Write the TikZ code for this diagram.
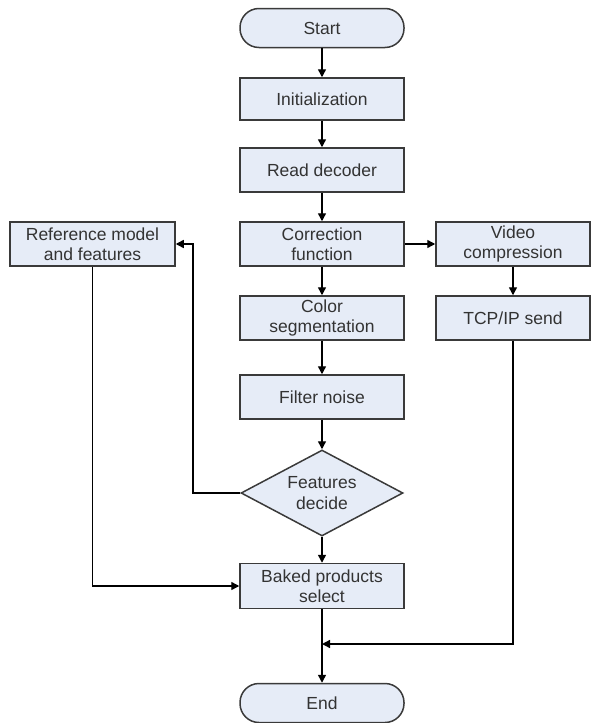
\documentclass[tikz,border=0pt]{standalone}
\usepackage{fontspec}
\setmainfont{Liberation Sans}
\usepackage{tikz}
\usetikzlibrary{arrows.meta,shapes.geometric,calc}
\definecolor{boxfill}{HTML}{E6ECF7}
\definecolor{boxline}{HTML}{3A3A3A}
\definecolor{boxtext}{HTML}{333333}

\begin{document}
\begin{tikzpicture}[
  x=1pt, y=-1pt,
  proc/.style={draw=boxline, fill=boxfill, line width=1.5pt, minimum width=164pt, minimum height=44pt,
    align=center, text=boxtext, inner sep=1pt, font=\fontsize{17.5}{20.5}\selectfont},
  term/.style={proc, rounded corners=19pt, minimum height=39pt},
  decision/.style={proc, diamond, aspect=1.88, minimum width=162pt, minimum height=86pt, inner sep=0pt},
  flow/.style={-{Triangle[length=8pt,width=8pt]}, line width=1.4pt, black}
]
\useasboundingbox (0,0) rectangle (595,723);

\node[term] (start) at (322,28) {Start};
\node[proc, minimum height=42pt] (init) at (322,99) {Initialization};
\node[proc] (read) at (322,170) {Read decoder};
\node[proc] (corr) at (322,244) {Correction\\function};
\node[proc, minimum width=154pt] (video) at (513,244) {Video\\compression};
\node[proc, minimum width=165pt] (ref) at (92.5,244) {Reference model\\and features};
\node[proc] (color) at (322,318) {Color\\segmentation};
\node[proc, minimum width=154pt] (tcp) at (513,318) {TCP/IP send};
\node[proc] (filter) at (322,397) {Filter noise};
\node[decision] (decide) at (322,493) {Features\\decide};
\node[proc, minimum height=45pt] (baked) at (322,586) {Baked products\\select};
\node[term] (end) at (322,703) {End};

\coordinate (back) at (193,493);
\coordinate (join) at (322,644);

\draw[flow] (start) -- (init);
\draw[flow] (init) -- (read);
\draw[flow] (read) -- (corr);
\draw[flow] (corr) -- (color);
\draw[flow] (corr) -- (video);
\draw[flow] (video) -- (tcp);
\draw[flow] (color) -- (filter);
\draw[flow] (filter) -- (decide);
\draw[flow] (decide) -- (baked);
\draw[flow] (decide.west) -- (back) |- (ref.east);
\draw[flow] (ref.south) |- (baked.west);
\draw[flow] (tcp.south) |- (join);
\draw[flow] (baked) -- (end);
\end{tikzpicture}
\end{document}
